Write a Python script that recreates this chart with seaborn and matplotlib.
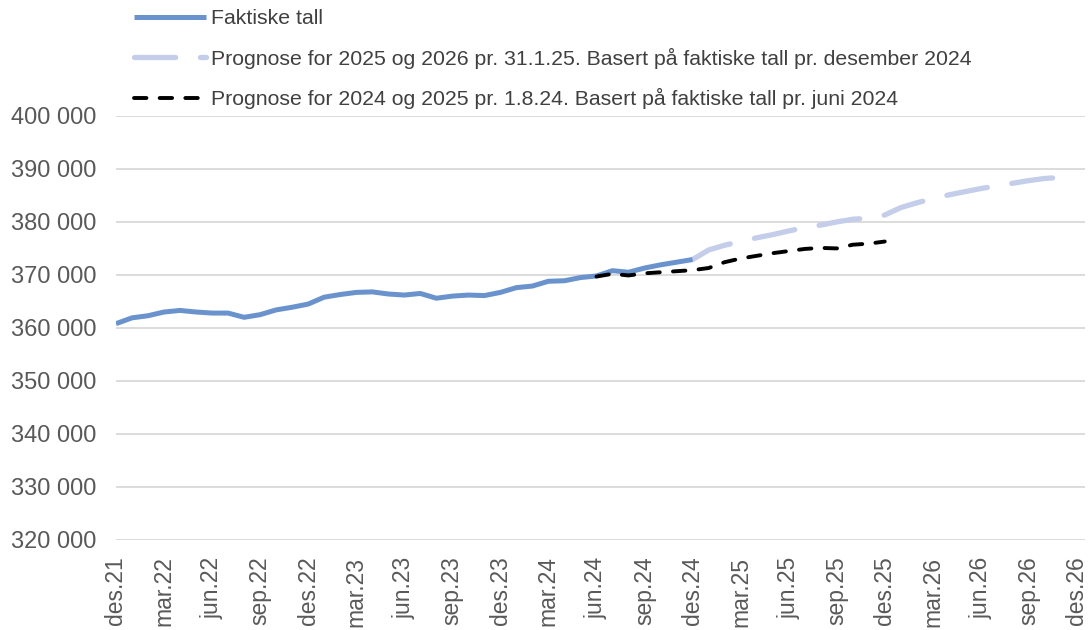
import numpy as np
import pandas as pd
import matplotlib
matplotlib.use("Agg")
import matplotlib.pyplot as plt
from matplotlib.ticker import FuncFormatter
import seaborn as sns

# --------------------------
# Data (monthly, index 0 = des.21)
# --------------------------
faktiske_tall = [
    360800, 361900, 362300, 363000, 363300, 363000, 362800, 362800, 362000,
    362500, 363400, 363900, 364500, 365800, 366300, 366700, 366800, 366400,
    366200, 366500, 365600, 366000, 366200, 366100, 366700, 367600, 367900,
    368800, 368900, 369500, 369800, 370800, 370500, 371300, 371900, 372400,
    372900,
]
faktiske_start = 0

prognose_2025 = [
    372900, 374700, 375600, 376300, 377000, 377600, 378300, 378900, 379400,
    380000, 380500, 380700, 381300, 382700, 383600, 384400, 385100, 385700,
    386300, 386800, 387300, 387800, 388200, 388400,
]
prognose_2025_start = 36

prognose_2024 = [
    369700, 370200, 369900, 370300, 370500, 370700, 370900, 371300, 372400,
    373100, 373600, 374100, 374500, 374900, 375100, 375000, 375700, 375900,
    376300,
]
prognose_2024_start = 30

tick_labels = [
    "des.21", "mar.22", "jun.22", "sep.22", "des.22", "mar.23", "jun.23",
    "sep.23", "des.23", "mar.24", "jun.24", "sep.24", "des.24", "mar.25",
    "jun.25", "sep.25", "des.25", "mar.26", "jun.26", "sep.26", "des.26",
]

navn_faktiske = "Faktiske tall"
navn_prog_2025 = "Prognose for 2025 og 2026 pr. 31.1.25. Basert på faktiske tall pr. desember 2024"
navn_prog_2024 = "Prognose for 2024 og 2025 pr. 1.8.24. Basert på faktiske tall pr. juni 2024"


def serie(verdier, start):
    return pd.DataFrame({"mnd": np.arange(start, start + len(verdier)), "verdi": verdier})


def main():
    sns.set_theme(style="white")
    plt.rcParams["font.family"] = ["Liberation Sans", "DejaVu Sans"]

    fig = plt.figure(figsize=(10.89, 6.30), dpi=100)
    ax = fig.add_axes([0.1065, 0.143, 0.8898, 0.673])

    # --------------------------
    # Linjer
    # --------------------------
    sns.lineplot(data=serie(faktiske_tall, faktiske_start), x="mnd", y="verdi",
                 ax=ax, color="#6A93CE", linewidth=3.6, label=navn_faktiske,
                 solid_capstyle="butt", zorder=3)
    sns.lineplot(data=serie(prognose_2025, prognose_2025_start), x="mnd", y="verdi",
                 ax=ax, color="#C4CDEA", linewidth=3.8, label=navn_prog_2025,
                 zorder=2)
    ax.lines[-1].set_dashes((7.8, 4.7))
    ax.lines[-1].set_dash_capstyle("round")
    sns.lineplot(data=serie(prognose_2024, prognose_2024_start), x="mnd", y="verdi",
                 ax=ax, color="black", linewidth=2.8, label=navn_prog_2024,
                 zorder=4)
    ax.lines[-1].set_dashes((3.2, 3.4))
    ax.lines[-1].set_dash_capstyle("round")

    # --------------------------
    # Akser
    # --------------------------
    ax.set_xlim(0, 60.5)
    ax.set_ylim(320000, 400000)
    ax.set_yticks(np.arange(320000, 400001, 10000))
    ax.yaxis.set_major_formatter(FuncFormatter(lambda v, p: f"{int(v):,}".replace(",", " ")))
    ax.set_xticks(np.arange(0, 61, 3))
    ax.set_xticklabels(tick_labels, rotation=90)
    ax.tick_params(axis="y", labelsize=17, labelcolor="#595959", pad=14, length=0)
    ax.tick_params(axis="x", labelsize=16.5, labelcolor="#595959", pad=12, length=0)
    ax.set_xlabel("")
    ax.set_ylabel("")
    ax.grid(axis="y", color="#D9D9D9", linewidth=1.3)
    ax.grid(axis="x", visible=False)
    for s in ax.spines.values():
        s.set_visible(False)

    # --------------------------
    # Legende
    # --------------------------
    handles, labels = ax.get_legend_handles_labels()
    ax.get_legend().remove()
    leg = fig.legend(handles, labels, loc="upper left", bbox_to_anchor=(0.1115, 1.006),
                     frameon=False, fontsize=15.3, handlelength=3.4, handletextpad=0.2,
                     labelspacing=0.92, borderaxespad=0.2)
    for t in leg.get_texts():
        t.set_color("#404040")

    fig.savefig("out.png", dpi=100)
    plt.close(fig)


if __name__ == "__main__":
    main()
